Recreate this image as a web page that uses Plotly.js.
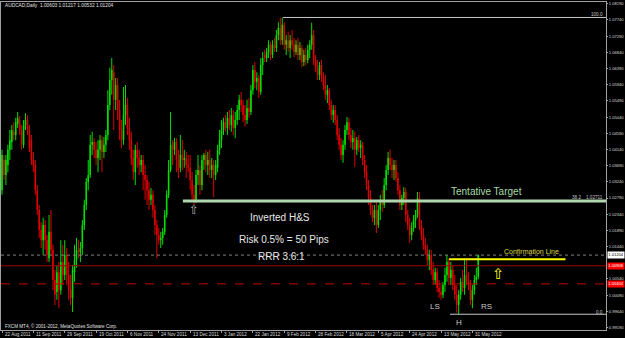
<!DOCTYPE html>
<html><head><meta charset="utf-8">
<script src="https://cdn.plot.ly/plotly-3.0.1.min.js"></script>
<style>html,body{margin:0;padding:0;background:#000;}#chart{width:625px;height:338px;}</style>
</head><body><div id="chart"></div>
<script>
const openP = [1.0301,1.0385,1.0343,1.0371,1.0413,1.0435,1.0463,1.0454,1.0485,1.0496,
1.0468,1.0427,1.0482,1.0496,1.0468,1.0440,1.0385,1.0371,1.0301,1.0246,
1.0190,1.0162,1.0204,1.0162,1.0112,1.0185,1.0135,1.0051,1.0018,1.0073,
1.0023,1.0101,1.0065,1.0121,1.0065,1.0023,1.0001,1.0073,1.0107,1.0135,
1.0129,1.0140,1.0204,1.0260,1.0324,1.0343,1.0427,1.0435,1.0413,1.0390,
1.0413,1.0440,1.0407,1.0427,1.0454,1.0538,1.0607,1.0629,1.0552,1.0593,
1.0524,1.0468,1.0440,1.0510,1.0538,1.0474,1.0440,1.0390,1.0351,1.0413,
1.0390,1.0371,1.0385,1.0343,1.0329,1.0301,1.0274,1.0288,1.0246,1.0204,
1.0176,1.0162,1.0168,1.0185,1.0232,1.0288,1.0357,1.0427,1.0413,1.0435,
1.0385,1.0363,1.0399,1.0385,1.0390,1.0371,1.0363,1.0329,1.0288,1.0274,
1.0343,1.0357,1.0315,1.0385,1.0399,1.0371,1.0385,1.0357,1.0371,1.0343,
1.0363,1.0413,1.0440,1.0468,1.0490,1.0474,1.0502,1.0482,1.0510,1.0474,
1.0496,1.0524,1.0552,1.0538,1.0510,1.0496,1.0529,1.0518,1.0579,1.0635,
1.0602,1.0613,1.0574,1.0649,1.0677,1.0668,1.0685,1.0705,1.0677,1.0705,
1.0696,1.0732,1.0752,1.0718,1.0760,1.0705,1.0718,1.0696,1.0718,1.0705,
1.0685,1.0705,1.0677,1.0696,1.0657,1.0677,1.0663,1.0691,1.0705,1.0732,
1.0663,1.0641,1.0621,1.0649,1.0613,1.0593,1.0566,1.0579,1.0538,1.0510,
1.0524,1.0496,1.0454,1.0427,1.0399,1.0427,1.0468,1.0490,1.0454,1.0435,
1.0446,1.0413,1.0440,1.0418,1.0427,1.0385,1.0351,1.0315,1.0279,1.0246,
1.0224,1.0246,1.0204,1.0246,1.0274,1.0260,1.0315,1.0357,1.0390,1.0371,
1.0357,1.0371,1.0335,1.0301,1.0260,1.0279,1.0296,1.0232,1.0204,1.0176,
1.0196,1.0218,1.0232,1.0279,1.0204,1.0176,1.0149,1.0135,1.0107,1.0121,
1.0079,1.0051,1.0073,1.0029,1.0018,1.0010,1.0037,1.0065,1.0101,1.0057,
1.0079,1.0037,1.0010,0.9982,1.0010,1.0046,1.0029,1.0065,1.0046,1.0037,
0.9996,1.0023,1.0051,1.00603];
const highP = [1.0413,1.0399,1.0399,1.0427,1.0468,1.0482,1.0490,1.0502,1.0518,1.0507,
1.0482,1.0496,1.0515,1.0510,1.0482,1.0454,1.0407,1.0385,1.0315,1.0260,
1.0212,1.0224,1.0218,1.0176,1.0232,1.0246,1.0149,1.0079,1.0093,1.0101,
1.0162,1.0149,1.0162,1.0140,1.0101,1.0065,1.0093,1.0149,1.0168,1.0162,
1.0157,1.0218,1.0274,1.0335,1.0385,1.0454,1.0463,1.0446,1.0435,1.0440,
1.0454,1.0452,1.0449,1.0468,1.0579,1.0641,1.0668,1.0649,1.0613,1.0613,
1.0552,1.0496,1.0588,1.0593,1.0557,1.0502,1.0463,1.0413,1.0427,1.0435,
1.0413,1.0399,1.0399,1.0371,1.0343,1.0324,1.0307,1.0301,1.0260,1.0218,
1.0196,1.0185,1.0196,1.0246,1.0301,1.0385,1.0518,1.0440,1.0446,1.0446,
1.0413,1.0454,1.0440,1.0413,1.0407,1.0399,1.0399,1.0351,1.0315,1.0357,
1.0399,1.0371,1.0399,1.0404,1.0413,1.0407,1.0413,1.0390,1.0385,1.0385,
1.0427,1.0468,1.0496,1.0502,1.0510,1.0518,1.0524,1.0529,1.0524,1.0518,
1.0538,1.0566,1.0574,1.0552,1.0538,1.0552,1.0557,1.0593,1.0649,1.0657,
1.0629,1.0621,1.0668,1.0685,1.0691,1.0696,1.0718,1.0713,1.0718,1.0724,
1.0746,1.0768,1.0780,1.0781,1.0768,1.0732,1.0741,1.0732,1.0746,1.0724,
1.0718,1.0724,1.0713,1.0705,1.0691,1.0696,1.0705,1.0718,1.0766,1.0746,
1.0677,1.0663,1.0657,1.0663,1.0629,1.0621,1.0593,1.0585,1.0552,1.0538,
1.0538,1.0510,1.0474,1.0446,1.0440,1.0482,1.0504,1.0502,1.0474,1.0468,
1.0463,1.0449,1.0454,1.0440,1.0435,1.0399,1.0371,1.0329,1.0301,1.0260,
1.0260,1.0274,1.0260,1.0288,1.0301,1.0335,1.0371,1.0407,1.0413,1.0390,
1.0385,1.0385,1.0351,1.0315,1.0288,1.0310,1.0307,1.0246,1.0224,1.0212,
1.0232,1.0246,1.0296,1.0296,1.0218,1.0196,1.0168,1.0149,1.0135,1.0135,
1.0101,1.0085,1.0085,1.0051,1.0037,1.0046,1.0085,1.0121,1.0112,1.0101,
1.0093,1.0065,1.0037,1.0023,1.0057,1.0079,1.0112,1.0112,1.0073,1.0051,
1.0037,1.0065,1.0085,1.01217];
const lowP = [1.0288,1.0329,1.0315,1.0351,1.0385,1.0413,1.0440,1.0440,1.0474,1.0454,
1.0413,1.0418,1.0468,1.0454,1.0407,1.0371,1.0351,1.0288,1.0232,1.0168,
1.0140,1.0121,1.0135,1.0101,1.0101,1.0121,1.0023,0.9982,0.9996,0.9973,
1.0010,1.0037,1.0051,1.0037,0.9996,0.9982,0.9962,1.0046,1.0085,1.0112,
1.0101,1.0121,1.0190,1.0246,1.0301,1.0335,1.0399,1.0390,1.0371,1.0351,
1.0385,1.0351,1.0390,1.0407,1.0440,1.0524,1.0566,1.0468,1.0524,1.0496,
1.0440,1.0418,1.0427,1.0482,1.0454,1.0413,1.0371,1.0329,1.0315,1.0363,
1.0343,1.0351,1.0301,1.0274,1.0260,1.0246,1.0260,1.0224,1.0176,1.0112,
1.0149,1.0140,1.0149,1.0176,1.0224,1.0279,1.0351,1.0371,1.0399,1.0351,
1.0335,1.0351,1.0357,1.0363,1.0335,1.0351,1.0301,1.0274,1.0260,1.0265,
1.0315,1.0288,1.0301,1.0357,1.0351,1.0343,1.0335,1.0335,1.0282,1.0329,
1.0351,1.0399,1.0418,1.0454,1.0463,1.0454,1.0468,1.0463,1.0454,1.0446,
1.0482,1.0496,1.0518,1.0490,1.0477,1.0485,1.0502,1.0510,1.0566,1.0585,
1.0579,1.0557,1.0566,1.0621,1.0657,1.0657,1.0668,1.0663,1.0668,1.0685,
1.0685,1.0718,1.0705,1.0705,1.0691,1.0677,1.0685,1.0668,1.0691,1.0671,
1.0677,1.0663,1.0663,1.0643,1.0646,1.0649,1.0654,1.0668,1.0691,1.0649,
1.0629,1.0607,1.0607,1.0602,1.0579,1.0552,1.0543,1.0524,1.0496,1.0488,
1.0482,1.0440,1.0413,1.0385,1.0377,1.0413,1.0454,1.0440,1.0418,1.0413,
1.0365,1.0399,1.0407,1.0390,1.0371,1.0335,1.0301,1.0260,1.0232,1.0212,
1.0204,1.0182,1.0196,1.0218,1.0240,1.0251,1.0301,1.0343,1.0357,1.0335,
1.0329,1.0324,1.0288,1.0246,1.0246,1.0260,1.0212,1.0190,1.0154,1.0162,
1.0185,1.0196,1.0224,1.0190,1.0162,1.0135,1.0121,1.0093,1.0079,1.0065,
1.0037,1.0037,1.0018,1.0001,0.9996,1.0001,1.0018,1.0046,1.0037,1.0037,
1.0023,0.9996,0.9960,0.9956,0.9996,1.0018,1.0010,1.0037,1.0023,0.9982,
0.9973,1.0010,1.0037,1.00532];
const closeP = [1.0399,1.0343,1.0385,1.0413,1.0440,1.0468,1.0454,1.0490,1.0502,1.0468,
1.0427,1.0482,1.0496,1.0468,1.0418,1.0385,1.0371,1.0301,1.0246,1.0190,
1.0162,1.0204,1.0162,1.0121,1.0185,1.0135,1.0051,1.0010,1.0073,1.0023,
1.0101,1.0065,1.0121,1.0065,1.0023,1.0001,1.0079,1.0107,1.0135,1.0129,
1.0140,1.0204,1.0260,1.0324,1.0343,1.0427,1.0435,1.0413,1.0390,1.0413,
1.0440,1.0407,1.0427,1.0454,1.0538,1.0607,1.0635,1.0552,1.0593,1.0524,
1.0468,1.0440,1.0510,1.0538,1.0474,1.0440,1.0390,1.0351,1.0413,1.0390,
1.0371,1.0385,1.0343,1.0329,1.0301,1.0274,1.0288,1.0246,1.0204,1.0176,
1.0162,1.0168,1.0185,1.0232,1.0288,1.0357,1.0427,1.0413,1.0435,1.0385,
1.0357,1.0399,1.0385,1.0390,1.0371,1.0363,1.0329,1.0288,1.0274,1.0343,
1.0357,1.0315,1.0385,1.0399,1.0371,1.0385,1.0357,1.0371,1.0343,1.0371,
1.0413,1.0440,1.0468,1.0490,1.0474,1.0502,1.0482,1.0510,1.0474,1.0496,
1.0524,1.0552,1.0538,1.0510,1.0496,1.0529,1.0518,1.0579,1.0635,1.0602,
1.0613,1.0574,1.0649,1.0668,1.0668,1.0685,1.0705,1.0677,1.0705,1.0696,
1.0732,1.0752,1.0718,1.0760,1.0705,1.0718,1.0696,1.0718,1.0705,1.0685,
1.0705,1.0677,1.0696,1.0657,1.0677,1.0663,1.0691,1.0705,1.0732,1.0663,
1.0641,1.0621,1.0649,1.0613,1.0593,1.0566,1.0579,1.0538,1.0510,1.0524,
1.0496,1.0454,1.0427,1.0399,1.0427,1.0468,1.0490,1.0454,1.0435,1.0446,
1.0413,1.0440,1.0418,1.0427,1.0385,1.0351,1.0315,1.0279,1.0246,1.0224,
1.0246,1.0204,1.0246,1.0274,1.0260,1.0315,1.0357,1.0390,1.0371,1.0357,
1.0371,1.0335,1.0301,1.0260,1.0279,1.0296,1.0232,1.0204,1.0176,1.0196,
1.0218,1.0232,1.0279,1.0204,1.0176,1.0149,1.0135,1.0107,1.0121,1.0079,
1.0051,1.0073,1.0029,1.0018,1.0010,1.0037,1.0065,1.0101,1.0057,1.0079,
1.0037,1.0010,0.9982,1.0010,1.0046,1.0029,1.0065,1.0046,1.0037,0.9996,
1.0023,1.0051,1.0060,1.01204];

const tickBars = [0,16,32,48,64,80,96,112,128,144,160,176,192,208,224,240];
const tickLabels = ['22 Aug 2011','11 Sep 2011','29 Sep 2011','19 Oct 2011','6 Nov 2011','24 Nov 2011','13 Dec 2011','3 Jan 2012','22 Jan 2012','9 Feb 2012','28 Feb 2012','18 Mar 2012','5 Apr 2012','24 Apr 2012','13 May 2012','31 May 2012'];
const priceTicks = [0.9919,0.9964,1.0009,1.0054,1.0144,1.0189,1.0234,1.0279,1.0324,1.0369,1.0414,1.0459,1.0504,1.0549,1.0594,1.0639,1.0684,1.0729,1.0774,1.0819];

const targetLevel = 1.02711;
const confirmLevel = 1.0109;
const bidLevel = 1.01204;
const stopLevel = 1.00908;
const entryLevel = 1.00404;
const fibHigh = 1.0781;
const fibLow = 0.9956;
const fibStartBar = 143.4, fibLowBar = 228.6, targetStartBar = 92.3, confirmStartBar = 228.1, confirmEndBar = 287.5;

const idx = openP.map((_, i) => i);
const up = idx.map(i => closeP[i] >= openP[i]);
const colors = up.map(u => u ? '#00e000' : '#e00000');

const wicks = {type:'bar', x:idx, base:lowP, y:idx.map(i => highP[i]-lowP[i]), width:0.5,
  marker:{color:colors, line:{width:0}}, hoverinfo:'skip'};
const bodies = {type:'bar', x:idx, base:idx.map(i => Math.min(openP[i], closeP[i])),
  y:idx.map(i => Math.max(Math.abs(closeP[i]-openP[i]), 0.00005)), width:0.8,
  marker:{color:colors, line:{width:0}}, hoverinfo:'skip'};

const P = (px, py) => ({x:(px-1)/605, y:(330-py)/328});
function txt(text, px, py, size, color, xanchor, family){
  const p = P(px, py);
  return {text:text, x:p.x, y:p.y, xref:'paper', yref:'paper', showarrow:false,
    xanchor:xanchor||'center', yanchor:'middle', font:{size:size, color:color, family:family||'Liberation Sans, Arial, sans-serif'}};
}
function box(text, level, bg, fg){
  return {text:text, x:1, y:level, xref:'paper', yref:'y', xanchor:'left', yanchor:'middle', xshift:1,
    showarrow:false, bgcolor:bg, borderpad:0.3, font:{size:4.1, color:fg}};
}

const annotations = [
  txt('AUDCAD,Daily  1.00603 1.01217 1.00532 1.01204', 3, 5.5, 4.8, '#e0e0e0', 'left'),
  txt('FXCM MT4, \u00a9 2001-2012, MetaQuotes Software Corp.', 3, 325.5, 4.6, '#e0e0e0', 'left'),
  txt('Tentative Target', 486, 191.5, 10, '#a8d8a8'),
  txt('Inverted H&S', 280, 217.5, 10, '#e8e8e8'),
  txt('Risk 0.5% = 50 Pips', 284, 239.5, 10, '#e8e8e8'),
  txt('RRR 3.6:1', 281.5, 256.5, 10, '#e8e8e8'),
  txt('Confirmation Line', 531, 251.5, 7, '#d8d840'),
  txt('LS', 435, 306, 8, '#c8c8c8'),
  txt('H', 459, 322, 8, '#c8c8c8'),
  txt('RS', 486.5, 306, 8, '#c8c8c8'),
  txt('100.0', 605, 14.5, 4.6, '#c8c8c8', 'right'),
  txt('38.2', 576, 197.5, 4.6, '#c8c8c8'),
  txt('1.02711', 605, 197.5, 4.6, '#c8c8c8', 'right'),
  txt('0.0', 605, 312, 4.6, '#c8c8c8', 'right'),
  txt('\u21e7', 193.5, 210, 12, '#b0b0b0', 'center', 'DejaVu Sans'),
  txt('\u21e7', 498.5, 273.5, 15, '#ffff00', 'center', 'DejaVu Sans'),
  box('1.01204', bidLevel, '#ffffff', '#000000'),
  box('1.00908', stopLevel, '#ff0000', '#ffffff'),
  box('1.00404', entryLevel, '#ff0000', '#ffffff')
];
tickBars.forEach((b, k) => annotations.push({text:tickLabels[k], x:b, xref:'x', y:-4/328, yref:'paper',
  xanchor:'left', yanchor:'middle', xshift:0.5, showarrow:false, font:{size:4.6, color:'#d8d8d8'}}));

const shapes = [
  {type:'line', xref:'paper', x0:0, x1:1, yref:'y', y0:bidLevel, y1:bidLevel, line:{color:'#808080', width:1, dash:'dot'}},
  {type:'line', xref:'paper', x0:0, x1:1, yref:'y', y0:stopLevel, y1:stopLevel, line:{color:'#a00000', width:1}},
  {type:'line', xref:'paper', x0:0, x1:1, yref:'y', y0:entryLevel, y1:entryLevel, line:{color:'#c00000', width:1, dash:'dash'}},
  {type:'line', xref:'x', x0:fibStartBar, x1:308.16, yref:'y', y0:fibHigh, y1:fibHigh, line:{color:'#c8c8c8', width:1}},
  {type:'line', xref:'x', x0:fibLowBar, x1:308.16, yref:'y', y0:fibLow, y1:fibLow, line:{color:'#c8c8c8', width:1}},
  {type:'line', xref:'x', x0:targetStartBar, x1:308.16, yref:'y', y0:targetLevel, y1:targetLevel, line:{color:'#b0d8b0', width:3}},
  {type:'line', xref:'x', x0:confirmStartBar, x1:confirmEndBar, yref:'y', y0:confirmLevel, y1:confirmLevel, line:{color:'#ffff00', width:2}}
];

const layout = {
  width:625, height:338,
  margin:{l:1, r:19, t:2, b:8, pad:0},
  paper_bgcolor:'#000000', plot_bgcolor:'#000000',
  barmode:'overlay', showlegend:false,
  font:{family:'Liberation Sans, Arial, sans-serif', color:'#d8d8d8', size:4.6},
  xaxis:{range:[-0.51, 308.16], tickmode:'array', tickvals:tickBars, showticklabels:false,
    ticks:'outside', ticklen:2, tickcolor:'#a0a0a0',
    showgrid:false, zeroline:false, showline:true, mirror:true, linecolor:'#a0a0a0', linewidth:1,
    fixedrange:true},
  yaxis:{range:[0.99122, 1.0824], side:'right', tickmode:'array', tickvals:priceTicks,
    ticktext:priceTicks.map(v => v.toFixed(5)), ticks:'outside', ticklen:1, tickcolor:'#a0a0a0',
    showgrid:false, zeroline:false, showline:true, mirror:true, linecolor:'#a0a0a0', linewidth:1,
    tickfont:{size:4.1, color:'#d8d8d8'}, fixedrange:true},
  shapes:shapes, annotations:annotations
};

Plotly.newPlot('chart', [wicks, bodies], layout, {staticPlot:true, displayModeBar:false});
</script></body></html>
